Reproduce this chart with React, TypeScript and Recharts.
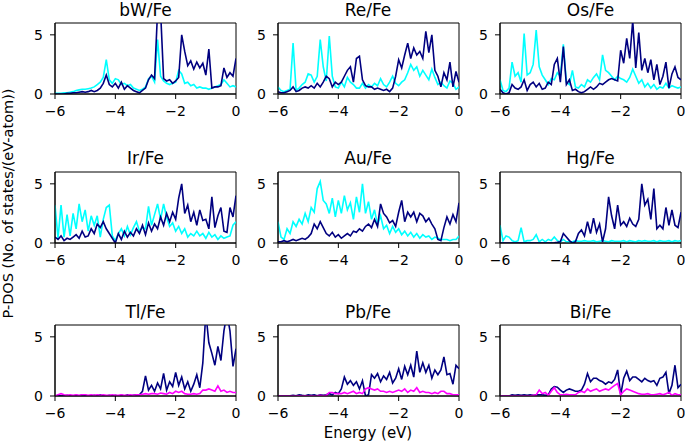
import React from "react";
import { LineChart, Line, XAxis, YAxis, ReferenceArea } from "recharts";

// Energy grid (eV)
const energy = [
  -6.0, -5.9, -5.8, -5.7, -5.6, -5.5, -5.4, -5.3, -5.2, -5.1,
  -5.0, -4.9, -4.8, -4.7, -4.6, -4.5, -4.4, -4.3, -4.2, -4.1,
  -4.0, -3.9, -3.8, -3.7, -3.6, -3.5, -3.4, -3.3, -3.2, -3.1,
  -3.0, -2.9, -2.8, -2.7, -2.6, -2.5, -2.4, -2.3, -2.2, -2.1,
  -2.0, -1.9, -1.8, -1.7, -1.6, -1.5, -1.4, -1.3, -1.2, -1.1,
  -1.0, -0.9, -0.8, -0.7, -0.6, -0.5, -0.4, -0.3, -0.2, -0.1,
  0.0,
];

const xTicks = [-6, -4, -2, 0];
const yTicks = [0, 5];
const titles = ["bW/Fe", "Re/Fe", "Os/Fe", "Ir/Fe", "Au/Fe", "Hg/Fe", "Tl/Fe", "Pb/Fe", "Bi/Fe"];

const bwCyan = [
  0.05, 0.05, 0.05, 0.1, 0.1, 0.15, 0.2, 0.3, 0.35, 0.4,
  0.4, 0.45, 0.5, 0.6, 0.8, 1.0, 1.4, 2.9, 1.2, 0.9,
  1.3, 1.2, 0.8, 0.9, 0.7, 0.8, 0.5, 0.4, 0.3, 0.4,
  0.6, 1.3, 1.5, 1.0, 4.6, 1.5, 1.1, 0.9, 0.8, 0.9,
  1.0, 2.0, 1.7, 0.9, 1.0, 0.7, 0.8, 0.5, 0.6, 0.5,
  0.5, 0.4, 0.5, 0.6, 0.7, 0.8, 1.2, 0.9, 0.6, 0.7,
  0.6,
];
const bwNavy = [
  0, 0, 0, 0, 0.05, 0.05, 0.1, 0.1, 0.15, 0.2,
  0.15, 0.2, 0.3, 0.2, 0.3, 0.5, 0.9, 1.6, 0.8, 0.6,
  0.9, 0.5, 1.0, 0.4, 0.7, 0.5, 0.3, 0.2, 0.1, 0.3,
  0.5, 1.2, 1.6, 1.3, 7, 7, 1.3, 1.1, 1.2, 0.9,
  1.1, 1.4, 5.0, 3.6, 2.4, 2.8, 2.1, 2.7, 2.2, 2.6,
  1.6, 3.8, 0.5, 0.6, 0.6, 0.7, 2.2, 1.4, 1.8, 1.5,
  3.0,
];

const reCyan = [
  0.6, 0.3, 0.2, 0.3, 0.4, 4.3, 0.3, 0.5, 0.8, 1.0,
  1.7, 1.6, 1.0, 1.5, 4.6, 2.3, 1.1, 4.9, 1.5, 0.6,
  0.5, 1.0, 0.6, 1.4, 1.0, 0.8, 0.5, 0.5, 0.9, 0.5,
  0.8, 0.6, 0.9, 0.7, 1.3, 0.8, 0.6, 1.0, 1.5, 0.9,
  0.7, 1.0, 1.2, 1.8, 2.5, 2.0, 2.3, 1.5, 2.0, 1.6,
  1.2, 2.1, 1.4, 0.8, 1.0, 0.7, 0.5, 1.1, 0.9, 0.4,
  0.6,
];
const reNavy = [
  0.2, 0.1, 0.1, 0.2, 0.3, 0.6, 0.2, 0.3, 0.5, 0.6,
  0.5, 0.7, 0.5, 0.9, 0.6, 1.0, 1.5, 1.3, 0.6, 1.0,
  0.8, 1.0, 1.5, 2.0, 2.3, 1.0, 3.0, 3.2, 1.2, 0.7,
  0.6, 0.6, 0.4, 0.5, 0.4, 0.3, 0.4, 0.2, 0.5, 1.5,
  2.9, 2.2, 3.3, 4.3, 3.0, 3.9, 3.3, 3.6, 3.0, 5.3,
  3.5, 5.0, 2.0, 1.5, 0.6, 1.8, 1.2, 2.7, 0.6, 1.9,
  1.0,
];

const osCyan = [
  1.2, 0.3, 0.2, 0.5, 2.7, 1.5, 1.8, 1.0, 5.1, 1.6,
  1.8, 2.5, 5.4, 2.3, 1.6, 1.2, 0.8, 1.3, 1.2, 1.8,
  1.5, 4.2, 1.0, 0.8, 2.0, 0.6, 0.5, 0.8, 0.6, 1.2,
  1.0, 1.4, 1.7, 1.2, 3.3, 2.0, 1.8, 1.5, 1.2, 1.5,
  1.3, 1.2, 1.0, 1.4, 2.1, 1.5, 0.9, 1.2, 0.6, 0.9,
  0.5, 0.8, 0.4, 0.6, 0.5, 0.9, 0.5, 0.7, 0.6, 0.5,
  0.6,
];
const osNavy = [
  0.4, 0.1, 0.0, 0.1, 0.8, 0.5, 0.4, 0.6, 1.2, 0.3,
  0.8, 1.0, 0.6, 0.9, 0.4, 0.5, 1.0, 0.8, 2.5, 3.0,
  1.0, 4.0, 0.8, 1.2, 0.3, 0.4, 0.2, 0.1, 0.2, 0.4,
  0.6, 0.4, 0.6, 0.9, 0.8, 1.0, 1.2, 1.3, 1.2, 1.1,
  3.7, 2.6, 4.7, 3.0, 6.2, 2.2, 5.2, 2.0, 3.0, 1.8,
  2.9, 1.2, 2.5, 0.8, 1.5, 2.7, 0.5, 1.7, 2.3, 1.4,
  1.2,
];

const irCyan = [
  3.2, 0.4, 3.2, 0.5, 2.4, 0.6, 2.5, 1.2, 3.3, 1.8,
  2.8, 1.0, 2.3, 1.5, 2.3, 0.5, 2.0, 3.0, 3.2, 0.6,
  0.2, 0.8, 1.2, 0.6, 1.4, 0.7, 1.3, 1.8, 1.0, 1.3,
  1.2, 3.1, 1.5, 2.4, 3.3, 2.0, 3.3, 2.2, 1.4, 1.7,
  1.0, 1.4, 0.8, 1.2, 0.5, 0.8, 0.6, 1.0, 0.6, 0.8,
  0.4, 0.9, 0.5, 0.7, 0.3, 0.6, 0.4, 0.5, 0.6, 1.5,
  1.8,
];
const irNavy = [
  0.5, 0.3, 0.6, 0.2, 0.4, 0.3, 0.5, 0.7, 0.4, 1.0,
  0.5, 0.6, 1.2, 0.8, 1.6, 1.3, 1.8, 1.2, 0.8, 0.4,
  0.0, 0.8, 0.3, 1.0, 0.5, 0.9, 0.6, 1.2, 0.8, 1.5,
  0.7, 1.7, 1.0, 1.6, 1.2, 2.2, 1.5, 2.5, 1.8, 2.6,
  2.0, 3.8, 5.0, 2.5, 3.2, 1.8, 2.6, 1.5, 2.8, 1.9,
  2.0, 1.2, 3.9, 1.3, 2.3, 3.0, 1.0, 0.9, 3.0, 2.2,
  4.0,
];

const auCyan = [
  1.8, 0.5, 0.3, 1.2, 0.8, 1.8, 1.4, 2.0, 1.6, 2.5,
  1.8, 3.0, 2.6, 4.6, 5.2, 3.6, 3.3, 2.5, 3.8, 2.2,
  3.6, 2.5, 4.0, 2.8, 3.4, 2.0, 3.9, 2.6, 5.0, 2.5,
  3.5, 2.0, 2.8, 1.5, 2.3, 1.2, 1.5, 0.8, 1.4, 0.9,
  1.2, 0.7, 1.0, 0.6, 0.9, 0.5, 0.8, 0.4, 0.7, 0.5,
  0.6, 0.3, 0.5, 0.4, 0.3, 0.3, 0.3, 0.2, 0.3, 0.3,
  0.6,
];
const auNavy = [
  0.1, 0.1, 0.2, 0.1, 0.2, 0.3, 0.2, 0.3, 0.4, 0.3,
  0.5, 0.8, 1.6, 1.2, 1.8, 1.3, 0.8, 0.6, 0.9, 0.5,
  0.7, 0.4, 0.6, 0.8, 0.6, 1.0, 0.9, 1.2, 1.0, 1.4,
  1.6, 1.3, 2.0, 1.4, 3.3, 2.5, 2.2, 1.7, 1.9, 1.4,
  2.6, 3.6, 1.8, 2.6, 2.2, 2.6, 1.8, 2.5, 2.3, 1.8,
  2.1, 1.6, 1.2, 0.3, 0.2, 1.3, 2.2, 1.6, 2.4, 1.8,
  3.4,
];

const hgCyan = [
  1.5, 0.2, 0.6, 0.5, 0.2, 0.1, 0.2, 1.3, 0.1, 0.2,
  0.2, 0.3, 0.7, 0.1, 0.3, 0.1, 0.3, 0.2, 0.5, 0.2,
  0.1, 0.3, 0.1, 0.1, 0.1, 0.2, 0.15, 0.15, 0.2, 0.15,
  0.15, 0.2, 0.1, 0.15, 0.2, 0.15, 0.1, 0.2, 0.15, 0.15,
  0.15, 0.2, 0.1, 0.2, 0.15, 0.1, 0.2, 0.15, 0.2, 0.15,
  0.15, 0.2, 0.1, 0.2, 0.15, 0.15, 0.2, 0.1, 0.2, 0.15,
  0.2,
];
const hgNavy = [
  0, 0, 0, 0, 0, 0, 0, 0, 0, 0,
  0, 0, 0, 0, 0, 0, 0, 0, 0.02, 0.05,
  0.1, 0.8, 0.5, 0.2, 0.0, 0.1, 0.8, 1.1, 0.6, 1.8,
  0.8, 2.1, 0.9, 1.6, 0.1, 1.2, 3.9, 2.3, 1.2, 3.2,
  1.5, 1.8, 1.4, 2.1, 1.6, 1.4, 2.0, 5.0, 3.2, 3.7,
  2.0, 4.6, 1.2, 1.5, 1.2, 3.0, 1.5, 2.8, 1.5, 1.3,
  2.6,
];

const tlNavy = [
  0, 0.05, 0, 0, 0.05, 0, 0, 0.05, 0, 0.1,
  0.05, 0, 0, 0.05, 0, 0.1, 0, 0, 0.05, 0,
  0.05, 0, 0.05, 0, 0.1, 0, 0.05, 0.1, 0.1, 0.4,
  1.7, 0.5, 0.9, 0.4, 1.1, 0.6, 1.9, 0.5, 1.2, 0.8,
  2.0, 0.9, 1.6, 0.6, 1.2, 0.4, 1.0, 1.8, 0.7, 2.8,
  7, 4.5, 3.6, 2.6, 4.2, 3.0, 5.5, 7, 5.5, 2.5,
  4.0,
];
const tlMagenta = [
  0.0, 0.1, 0.2, 0.1, 0.05, 0.1, 0.05, 0.1, 0.05, 0.1,
  0.1, 0.05, 0.1, 0.05, 0.1, 0.05, 0.1, 0.05, 0.05, 0.1,
  0.05, 0.05, 0.1, 0.05, 0.05, 0.1, 0.05, 0.1, 0.1, 0.15,
  0.2, 0.15, 0.2, 0.2, 0.15, 0.25, 0.2, 0.15, 0.3, 0.2,
  0.4, 0.3, 0.4, 0.2, 0.15, 0.15, 0.2, 0.15, 0.2, 0.5,
  0.5, 0.6, 0.5, 0.4, 0.85, 0.4, 0.5, 0.3, 0.4, 0.3,
  0.3,
];

const pbNavy = [
  0, 0, 0, 0, 0.02, 0.05, 0.02, 0.1, 0.05, 0.02,
  0.1, 0.05, 0.1, 0.02, 0.1, 0.05, 0.1, 0.2, 0.1, 0.3,
  0.2, 0.6, 1.6, 1.0, 1.3, 0.9, 1.2, 0.6, 1.3, 0.0,
  0.1, 1.8, 1.5, 1.9, 1.2, 1.7, 1.4, 2.0, 1.1, 1.5,
  2.3, 1.4, 2.5, 1.8, 2.6, 1.6, 3.8, 2.0, 2.8, 2.0,
  2.6, 1.5, 2.2, 1.8, 2.2, 3.3, 1.8, 1.9, 1.0, 2.6,
  2.3,
];
const pbMagenta = [
  0, 0, 0, 0, 0, 0, 0, 0.02, 0, 0.02,
  0, 0.02, 0, 0.02, 0.05, 0.02, 0.05, 0.3, 0.3, 0.2,
  0.2, 0.2, 0.3, 0.2, 0.3, 0.4, 0.2, 0.3, 0.2, 0.6,
  0.7, 0.6, 0.5, 0.6, 0.4, 0.4, 0.3, 0.4, 0.3, 0.4,
  0.5, 0.4, 0.6, 0.3, 0.5, 0.4, 0.7, 0.3, 0.4, 0.3,
  0.3, 0.2, 0.3, 0.2, 0.4, 0.4, 0.2, 0.2, 0.1, 0.1,
  0.1,
];

const biNavy = [
  0, 0, 0, 0, 0.1, 0.05, 0.1, 0.05, 0.1, 0.05,
  0.1, 0.05, 0.1, 0.1, 0.1, 0.05, 0.1, 0.6, 0.8, 0.75,
  0.5, 0.3, 0.5, 0.6, 0.5, 0.4, 0.4, 0.5, 1.0, 1.9,
  1.2, 1.5, 1.5, 1.3, 1.2, 1.0, 1.2, 1.1, 1.4, 2.2,
  0.1, 1.5, 2.1, 1.3, 1.6, 1.6, 1.4, 1.2, 1.5, 1.3,
  1.2, 1.3, 0.9, 1.5, 1.6, 2.0, 0.2, 0.9, 2.6, 0.7,
  1.0,
];
const biMagenta = [
  0, 0, 0, 0, 0, 0, 0, 0, 0, 0,
  0.02, 0.05, 0.1, 0.5, 0.2, 0.3, 0.05, 0.4, 0.7, 0.3,
  0.1, 0.1, 0.15, 0.1, 0.1, 0.1, 0.3, 0.4, 0.3, 0.6,
  0.4, 0.5, 0.6, 0.4, 0.5, 0.6, 0.5, 0.7, 0.9, 1.05,
  0.1, 0.4, 0.6, 0.5, 0.4, 0.3, 0.2, 0.15, 0.15, 0.2,
  0.1, 0.1, 0.15, 0.2, 0.1, 0.2, 0.3, 0.05, 0.2, 0.1,
  0.1,
];

const panelSeries = [
  [bwCyan, bwNavy],
  [reCyan, reNavy],
  [osCyan, osNavy],
  [irCyan, irNavy],
  [auCyan, auNavy],
  [hgCyan, hgNavy],
  [tlNavy, tlMagenta],
  [pbNavy, pbMagenta],
  [biNavy, biMagenta],
];

const CYAN = "#00FFFF";
const NAVY = "#000080";
const MAGENTA = "#FF00FF";
const FONT = "'DejaVu Sans', 'Liberation Sans', sans-serif";

const COLS = [55, 277.5, 500];
const ROWS = [23.3, 171.7, 325];
const PW = 181;
const PH = 71;
const YW = 30;
const MT = 5;
const MR = 5;
const XH = 30;

const fmt = (v: number) => (v < 0 ? "\u2212" + Math.abs(v) : String(v));

function Panel({ idx }: { idx: number }) {
  const [a, b] = panelSeries[idx];
  const data = energy.map((e, i) => ({ e, a: a[i], b: b[i] }));
  const row = Math.floor(idx / 3);
  const col = idx % 3;
  const colorA = row < 2 ? CYAN : NAVY;
  const colorB = row < 2 ? NAVY : MAGENTA;
  const tickStyle = { fill: "#000", fontSize: 14, fontFamily: FONT };
  return (
    <div style={{ position: "absolute", left: COLS[col] - YW, top: ROWS[row] - MT }}>
      <LineChart
        width={YW + PW + MR}
        height={MT + PH + XH}
        data={data}
        margin={{ top: MT, right: MR, left: 0, bottom: 0 }}
      >
        <Line dataKey="a" type="linear" stroke={colorA} strokeWidth={1.6} dot={false} isAnimationActive={false} />
        <Line dataKey="b" type="linear" stroke={colorB} strokeWidth={1.6} dot={false} isAnimationActive={false} />
        <XAxis
          dataKey="e"
          type="number"
          domain={[-6, 0]}
          ticks={xTicks}
          tickFormatter={fmt}
          allowDataOverflow
          height={XH}
          stroke="#000"
          tick={tickStyle}
          tickSize={5}
          tickMargin={7}
          interval={0}
        />
        <YAxis
          type="number"
          domain={[0, 6]}
          ticks={yTicks}
          allowDataOverflow
          width={YW}
          stroke="#000"
          tick={tickStyle}
          tickSize={5}
          tickMargin={7}
          interval={0}
        />
        <ReferenceArea x1={-6} x2={0} y1={0} y2={6} fill="none" fillOpacity={0} stroke="#000" strokeWidth={1} />
      </LineChart>
    </div>
  );
}

export default function App() {
  return (
    <div style={{ position: "absolute", left: 0, top: 0, width: 685, height: 443, background: "#fff", overflow: "hidden" }}>
      {titles.map((t, i) => (
        <Panel key={t} idx={i} />
      ))}
      <svg width={685} height={443} style={{ position: "absolute", left: 0, top: 0, pointerEvents: "none" }}>
        {titles.map((t, i) => (
          <text
            key={t}
            x={COLS[i % 3] + PW / 2}
            y={ROWS[Math.floor(i / 3)] - 7.3}
            textAnchor="middle"
            fontFamily={FONT}
            fontSize={17}
            fill="#000"
          >
            {t}
          </text>
        ))}
        <text
          x={13}
          y={203.5}
          transform="rotate(-90, 13, 203.5)"
          textAnchor="middle"
          fontFamily={FONT}
          fontSize={14.5}
          fill="#000"
        >
          P-DOS (No. of states/(eV-atom))
        </text>
        <text x={368} y={438} textAnchor="middle" fontFamily={FONT} fontSize={15} fill="#000">
          Energy (eV)
        </text>
      </svg>
    </div>
  );
}
